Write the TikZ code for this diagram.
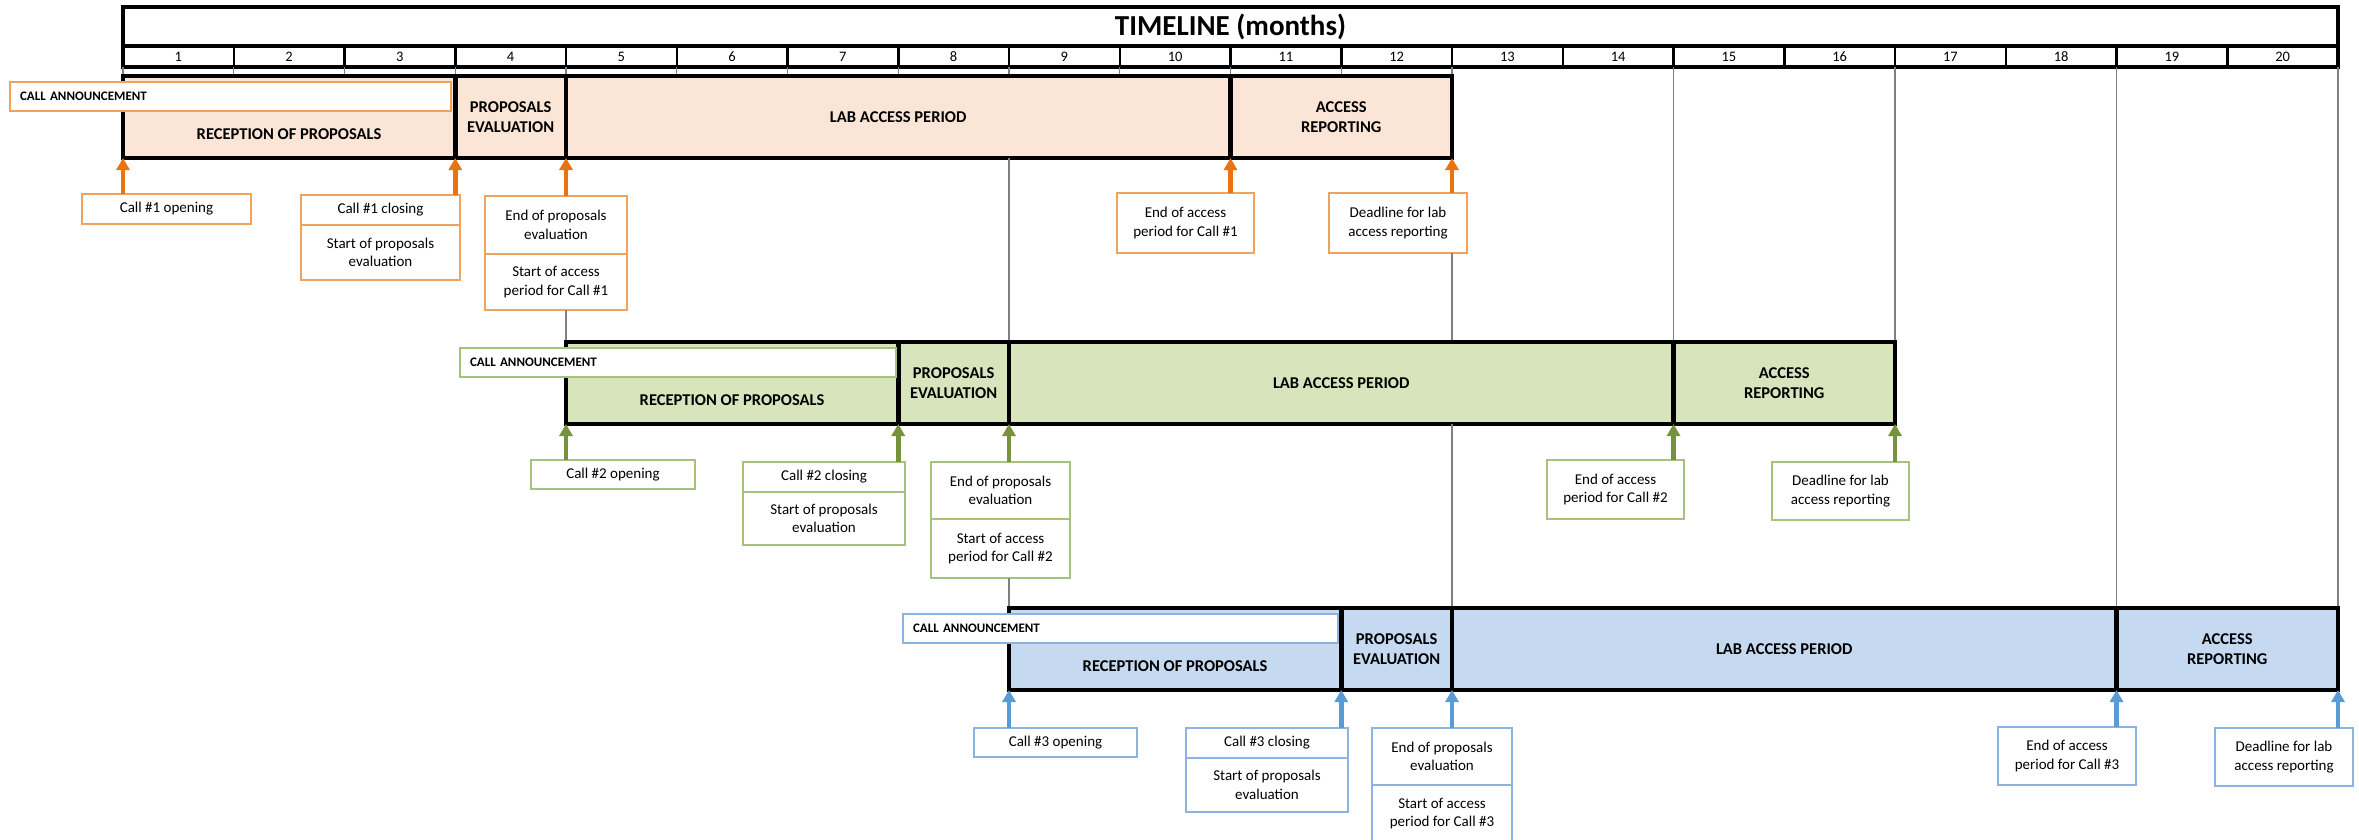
\documentclass[tikz,border=0pt]{standalone}
\usepackage{fontspec}
\setmainfont{Carlito}
\usetikzlibrary{arrows.meta}
\definecolor{orArr}{HTML}{E8730F}
\definecolor{orBrd}{HTML}{F0A35E}
\definecolor{orFill}{HTML}{FBE5D6}
\definecolor{grArr}{HTML}{76923C}
\definecolor{grBrd}{HTML}{A6C27C}
\definecolor{grFill}{HTML}{D8E4BC}
\definecolor{blArr}{HTML}{5B9BD5}
\definecolor{blBrd}{HTML}{8DB3E2}
\definecolor{blFill}{HTML}{C5D9F1}
\newcommand\segfont{\fontsize{16.5}{20}\selectfont\bfseries}
\newcommand\evfont{\fontsize{15}{18.5}\selectfont}
\newcommand\annfont{\fontsize{13}{15}\selectfont\bfseries\spaceskip=2.5pt plus 1pt\relax}
\begin{document}
\begin{tikzpicture}[x=1pt,y=-1pt,
  seg/.style={draw=black, line width=4.5pt, inner sep=0pt, outer sep=0pt, anchor=north west, minimum height=82pt, align=center, font=\segfont},
  evb/.style={draw, line width=1.5pt, fill=white, inner sep=0pt, outer sep=0pt, anchor=north west, align=center, font=\evfont},
  ann/.style={draw, line width=1.5pt, fill=white, anchor=north west, inner xsep=10pt, inner ysep=0pt, outer sep=0pt, minimum height=29pt, align=left, font=\annfont},
  mcell/.style={draw=black, line width=2.5pt, inner sep=0pt, outer sep=0pt, anchor=north west, minimum width=110.75pt, minimum height=21pt, font=\fontsize{14.5}{16}\selectfont},
  grid/.style={draw=gray, line width=1.2pt},
  arrA/.style={draw=orArr, line width=4.5pt, -{Triangle[width=13pt,length=12pt]}},
  arrB/.style={draw=grArr, line width=4.5pt, -{Triangle[width=13pt,length=12pt]}},
  arrC/.style={draw=blArr, line width=4.5pt, -{Triangle[width=13pt,length=12pt]}}]
\useasboundingbox (0,0) rectangle (2359,839);

% ---------------- timeline header ----------------
\node[draw=black, line width=4pt, inner sep=0pt, outer sep=0pt, anchor=north west, minimum width=2215pt, minimum height=39pt, font=\fontsize{29}{32}\selectfont\bfseries] (tl) at (123,7) {TIMELINE (months)};
\foreach \k in {1,...,20} {
  \node[mcell] (m\k) at ({123+110.75*(\k-1)},46) {\k};
}
\draw[black, line width=4pt] (123,7) rectangle (2338,67);
\draw[black, line width=4pt] (123,46) -- (2338,46);

% ---------------- grid lines ----------------
\foreach \k in {0,...,12} {
  \coordinate (t\k) at ({123+110.75*\k},67);
  \coordinate (u\k) at ({123+110.75*\k},76);
  \draw[grid] (t\k) -- (u\k);
}
\coordinate (t14) at (1673.5,67); \coordinate (t16) at (1895,67);
\coordinate (t18) at (2116.5,67); \coordinate (t20) at (2338,67);

% ---------------- row 1 ----------------
\node[seg, fill=orFill, minimum width=332.25pt] (r1a) at (123,76) {};
\node[seg, fill=orFill, minimum width=110.75pt] (r1b) at (455.25,76) {PROPOSALS\\EVALUATION};
\node[seg, fill=orFill, minimum width=664.5pt] (r1c) at (566,76) {LAB ACCESS PERIOD};
\node[seg, fill=orFill, minimum width=221.5pt] (r1d) at (1230.5,76) {ACCESS\\REPORTING};
\node[font=\segfont] (r1at) at ([yshift=-17pt]r1a.center) {RECEPTION OF PROPOSALS};
\node[ann, draw=orBrd, text width=421pt] (n1) at (10,82) {CALL ANNOUNCEMENT};

\node[evb, draw=orBrd, minimum width=169pt, minimum height=30pt] (o1) at (82,194) {Call \#1 opening};
\node[evb, draw=orBrd, minimum width=159pt, minimum height=30pt] (c1a) at (301,195) {Call \#1 closing};
\node[evb, draw=orBrd, minimum width=159pt, minimum height=55pt] (c1b) at (301,225) {Start of proposals\\evaluation};
\node[evb, draw=orBrd, minimum width=142pt, minimum height=58pt] (e1a) at (485,196) {End of proposals\\evaluation};
\node[evb, draw=orBrd, minimum width=142pt, minimum height=56pt] (e1b) at (485,254) {Start of access\\period for Call \#1};
\node[evb, draw=orBrd, minimum width=137pt, minimum height=60pt] (a1) at (1117,193) {End of access\\period for Call \#1};
\node[evb, draw=orBrd, minimum width=138pt, minimum height=60pt] (d1) at (1329,193) {Deadline for lab\\access reporting};

\draw[arrA] (r1a.south west |- o1.north) -- (r1a.south west);
\draw[arrA] (r1a.south east |- c1a.north) -- (r1a.south east);
\draw[arrA] (r1b.south east |- e1a.north) -- (r1b.south east);
\draw[arrA] (r1c.south east |- a1.north) -- (r1c.south east);
\draw[arrA] (r1d.south east |- d1.north) -- (r1d.south east);

% ---------------- row 2 ----------------
\draw[grid] (t14) -- (t14 |- 0,342);
\draw[grid] (t16) -- (t16 |- 0,342);
\draw[grid] (t18) -- (t18 |- 0,608);
\draw[grid] (t20) -- (t20 |- 0,608);
\draw[grid] (r1b.south east |- e1b.south) -- (566,342);
\draw[grid] (r1c.south west -| 1009,0) -- (1009,342);
\draw[grid] (r1d.south east |- d1.south) -- (1452,608);

\node[seg, fill=grFill, minimum width=332.25pt] (r2a) at (566,342) {};
\node[seg, fill=grFill, minimum width=110.75pt] (r2b) at (898.25,342) {PROPOSALS\\EVALUATION};
\node[seg, fill=grFill, minimum width=664.5pt] (r2c) at (1009,342) {LAB ACCESS PERIOD};
\node[seg, fill=grFill, minimum width=221.5pt] (r2d) at (1673.5,342) {ACCESS\\REPORTING};
\node[font=\segfont] (r2at) at ([yshift=-17pt]r2a.center) {RECEPTION OF PROPOSALS};
\node[ann, draw=grBrd, text width=416pt] (n2) at (460,348) {CALL ANNOUNCEMENT};

\node[evb, draw=grBrd, minimum width=164pt, minimum height=29pt] (o2) at (531,460) {Call \#2 opening};
\node[evb, draw=grBrd, minimum width=162pt, minimum height=30pt] (c2a) at (743,462) {Call \#2 closing};
\node[evb, draw=grBrd, minimum width=162pt, minimum height=53pt] (c2b) at (743,492) {Start of proposals\\evaluation};
\node[evb, draw=grBrd, minimum width=139pt, minimum height=57pt] (e2a) at (931,462) {End of proposals\\evaluation};
\node[evb, draw=grBrd, minimum width=139pt, minimum height=59pt] (e2b) at (931,519) {Start of access\\period for Call \#2};
\node[evb, draw=grBrd, minimum width=137pt, minimum height=59pt] (a2) at (1547,460) {End of access\\period for Call \#2};
\node[evb, draw=grBrd, minimum width=137pt, minimum height=58pt] (d2) at (1772,462) {Deadline for lab\\access reporting};

\draw[arrB] (r2a.south west |- o2.north) -- (r2a.south west);
\draw[arrB] (r2a.south east |- c2a.north) -- (r2a.south east);
\draw[arrB] (r2b.south east |- e2a.north) -- (r2b.south east);
\draw[arrB] (r2c.south east |- a2.north) -- (r2c.south east);
\draw[arrB] (r2d.south east |- d2.north) -- (r2d.south east);

% ---------------- row 3 ----------------
\draw[grid] (r2b.south east |- e2b.south) -- (1009,608);
\draw[grid] (1452,424) -- (1452,608);

\node[seg, fill=blFill, minimum width=332.25pt] (r3a) at (1009,608) {};
\node[seg, fill=blFill, minimum width=110.75pt] (r3b) at (1341.25,608) {PROPOSALS\\EVALUATION};
\node[seg, fill=blFill, minimum width=664.5pt] (r3c) at (1452,608) {LAB ACCESS PERIOD};
\node[seg, fill=blFill, minimum width=221.5pt] (r3d) at (2116.5,608) {ACCESS\\REPORTING};
\node[font=\segfont] (r3at) at ([yshift=-17pt]r3a.center) {RECEPTION OF PROPOSALS};
\node[ann, draw=blBrd, text width=415pt] (n3) at (903,614) {CALL ANNOUNCEMENT};

\node[evb, draw=blBrd, minimum width=163pt, minimum height=29pt] (o3) at (974,728) {Call \#3 opening};
\node[evb, draw=blBrd, minimum width=162pt, minimum height=30pt] (c3a) at (1186,728) {Call \#3 closing};
\node[evb, draw=blBrd, minimum width=162pt, minimum height=54pt] (c3b) at (1186,758) {Start of proposals\\evaluation};
\node[evb, draw=blBrd, minimum width=140pt, minimum height=57pt] (e3a) at (1372,728) {End of proposals\\evaluation};
\node[evb, draw=blBrd, minimum width=140pt, minimum height=57pt] (e3b) at (1372,785) {Start of access\\period for Call \#3};
\node[evb, draw=blBrd, minimum width=138pt, minimum height=58pt] (a3) at (1998,727) {End of access\\period for Call \#3};
\node[evb, draw=blBrd, minimum width=138pt, minimum height=58pt] (d3) at (2215,728) {Deadline for lab\\access reporting};

\draw[arrC] (r3a.south west |- o3.north) -- (r3a.south west);
\draw[arrC] (r3a.south east |- c3a.north) -- (r3a.south east);
\draw[arrC] (r3b.south east |- e3a.north) -- (r3b.south east);
\draw[arrC] (r3c.south east |- a3.north) -- (r3c.south east);
\draw[arrC] (r3d.south east |- d3.north) -- (r3d.south east);
\end{tikzpicture}
\end{document}
